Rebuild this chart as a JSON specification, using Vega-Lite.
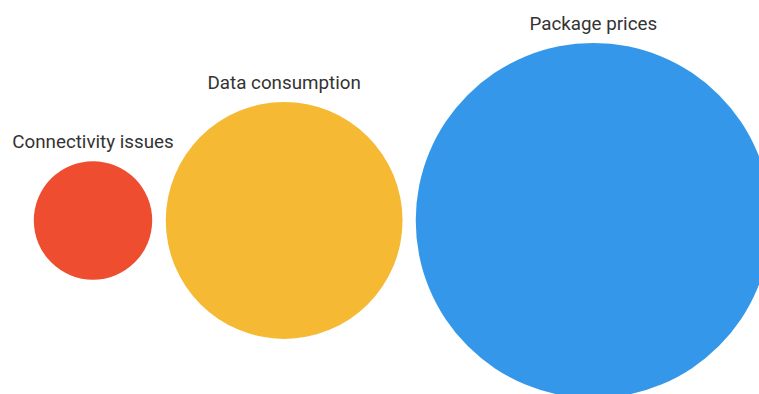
{
  "$schema": "https://vega.github.io/schema/vega-lite/v6.json",
  "width": 759,
  "height": 394,
  "padding": 0,
  "autosize": {"type": "none"},
  "background": "white",
  "config": {"view": {"stroke": null}},
  "data": {"values": [
    {"label": "Connectivity issues", "value": 1},
    {"label": "Data consumption", "value": 4},
    {"label": "Package prices", "value": 9}
  ]},
  "transform": [
    {"calculate": "sqrt(datum.value)", "as": "r"},
    {"calculate": "2*datum.r+0.24", "as": "span"},
    {"window": [{"op": "sum", "field": "span", "as": "cum"}], "sort": [{"field": "value"}], "frame": [null, 0]},
    {"calculate": "datum.cum - datum.r - 0.24", "as": "cx"},
    {"calculate": "0", "as": "cy"},
    {"calculate": "datum.r + 0.33", "as": "ly"}
  ],
  "encoding": {
    "x": {"field": "cx", "type": "quantitative", "axis": null, "scale": {"domain": [-0.5763, 12.2881], "nice": false, "zero": false}}
  },
  "layer": [
    {
      "mark": {"type": "point", "filled": true, "opacity": 1, "shape": "circle"},
      "encoding": {
        "y": {"field": "cy", "type": "quantitative", "axis": null, "scale": {"domain": [-2.941, 3.737], "nice": false, "zero": false}},
        "size": {"field": "value", "type": "quantitative", "legend": null, "scale": {"type": "linear", "domain": [0, 9], "range": [0, 126164], "zero": true}},
        "color": {"field": "label", "type": "nominal", "legend": null, "scale": {"domain": ["Connectivity issues", "Data consumption", "Package prices"], "range": ["#EF4D30", "#F5B934", "#3597E9"]}}
      }
    },
    {
      "mark": {"type": "text", "font": "Roboto", "fontSize": 18.8, "color": "#333333", "baseline": "middle", "align": "center"},
      "encoding": {
        "y": {"field": "ly", "type": "quantitative", "axis": null, "scale": {"domain": [-2.941, 3.737], "nice": false, "zero": false}},
        "text": {"field": "label", "type": "nominal"}
      }
    }
  ]
}
